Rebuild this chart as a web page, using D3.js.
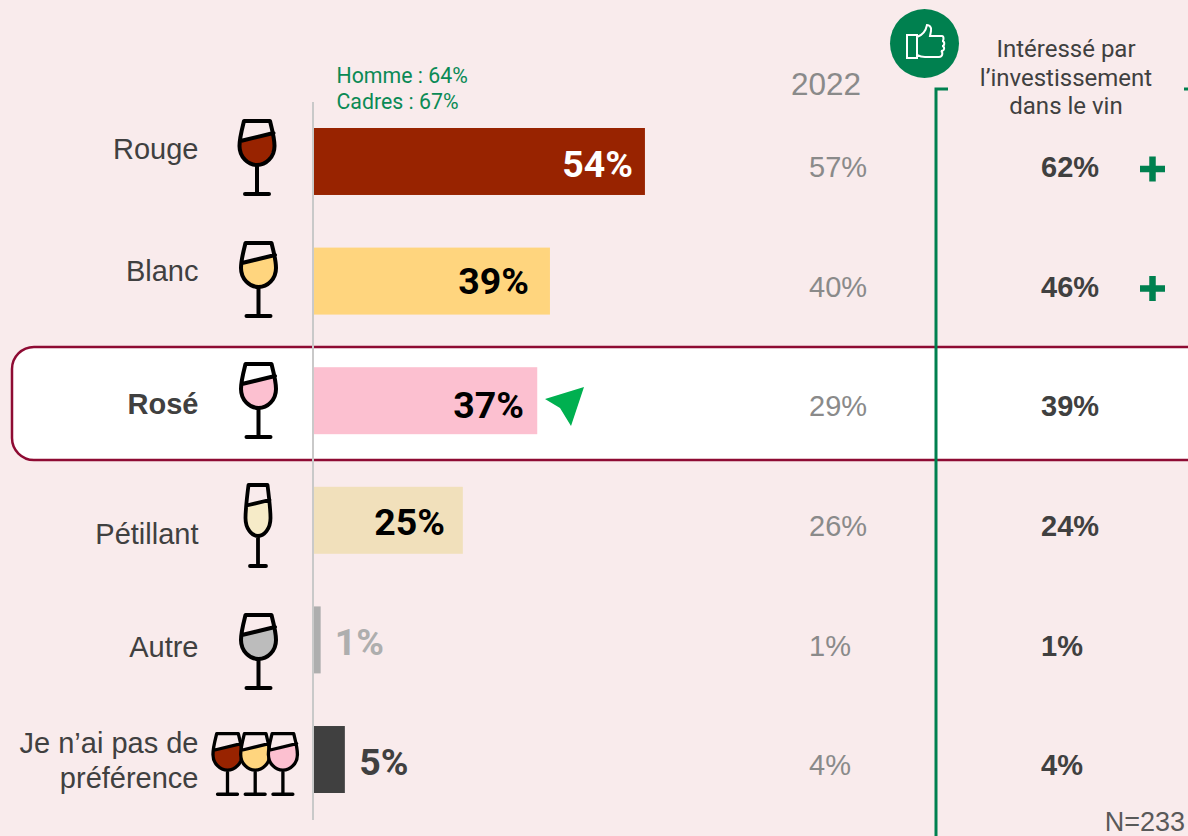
<!DOCTYPE html>
<html><head><meta charset="utf-8">
<script src="https://cdn.jsdelivr.net/npm/d3@7/dist/d3.min.js"></script>
<style>html,body{margin:0;padding:0;background:#f9ebec}svg{display:block}text{font-family:"Liberation Sans",Arial,sans-serif}.rb,text.val{font-family:Roboto,sans-serif}</style>
</head><body><svg id="c" width="1188" height="836"></svg>
<script>
const categories=["Rouge","Blanc","Rosé","Pétillant","Autre","Je n’ai pas de|préférence"];
const values=[54.7,39,36.9,24.6,1.1,5.1];
const valueLabels=["54%","39%","37%","25%","1%","5%"];
const year2022=["57%","40%","29%","26%","1%","4%"];
const invest=["62%","46%","39%","24%","1%","4%"];
const investPlus=[true,true,false,false,false,false];
const barColors=["#982300","#ffd57e","#fcc0d0","#f1e0bb","#aeaeae","#404040"];
const labelColors=["#fff","#000","#000","#000","#aeaeae","#404040"];
const glassFills=[["#982300"],["#ffd57e"],["#fcc0d0"],["#f6ebc8"],["#bcbcbc"],["#982300","#ffd57e","#fcc0d0"]];
const annotations=["Homme : 64%","Cadres : 67%"];
const headerLines=["Intéressé par","l’investissement","dans le vin"];

const svg=d3.select("#c");
const x=d3.scaleLinear().domain([0,100]).range([314,919]);
const y=d3.scaleBand().domain(categories).range([128,793]).paddingInner(0.44);
const labelBase=[159,281,414,544,657,753];
const pctBase=[177,294,418,535,655,775];
const colBase=[177,297,416,536,656,775];
const glassTop=[119,241,362,483,613,732];
const glassCx=[257,258.5,258.5,258,258.5,227.5];
const labelEnd=[633,529,524,445,384,408.5];

svg.append("rect").attr("width",1188).attr("height",836).attr("fill","#f9ebec");
svg.append("rect").attr("x",12).attr("y",347).attr("width",1240).attr("height",113).attr("rx",22)
  .attr("fill","#fff").attr("stroke","#8e0b33").attr("stroke-width",2.5);
svg.append("line").attr("x1",313).attr("x2",313).attr("y1",102).attr("y2",820).attr("stroke","#c9c9c9").attr("stroke-width",2);

svg.append("path").attr("d","M948,89H936V836").attr("fill","none").attr("stroke","#00804f").attr("stroke-width",3);
svg.append("path").attr("d","M1184,89H1188").attr("fill","none").attr("stroke","#00804f").attr("stroke-width",3);

svg.selectAll("rect.bar").data(categories).join("rect").attr("class","bar")
  .attr("x",x(0)).attr("y",d=>y(d)).attr("height",y.bandwidth())
  .attr("width",(d,i)=>x(values[i])-x(0)).attr("fill",(d,i)=>barColors[i]);

svg.selectAll("text.val").data(categories).join("text").attr("class","val")
  .attr("x",(d,i)=>labelEnd[i]).attr("y",(d,i)=>pctBase[i]).attr("text-anchor","end")
  .attr("font-size",37.5).attr("font-weight",700).attr("fill",(d,i)=>labelColors[i])
  .text((d,i)=>valueLabels[i]);

svg.selectAll("text.cat").data(categories).join("text").attr("class","cat")
  .attr("text-anchor","end").attr("font-size",29).attr("fill","#404040")
  .attr("font-weight",(d,i)=>i===2?700:400)
  .each(function(d,i){
    d3.select(this).selectAll("tspan").data(d.split("|")).join("tspan")
      .attr("x",198.5).attr("y",(t,j)=>labelBase[i]+j*35).text(t=>t);
  });

svg.selectAll("text.y22").data(year2022).join("text").attr("class","y22")
  .attr("x",809).attr("y",(d,i)=>colBase[i]).attr("font-size",29).attr("fill","#8a8a8a").text(d=>d);
svg.selectAll("text.inv").data(invest).join("text").attr("class","inv")
  .attr("x",1041).attr("y",(d,i)=>colBase[i]).attr("font-size",29).attr("font-weight",700).attr("fill","#404040").text(d=>d);
svg.selectAll("path.plus").data(investPlus.map((p,i)=>p?categories[i]:null).filter(Boolean)).join("path").attr("class","plus")
  .attr("d",d=>{const c=y(d)+y.bandwidth()/2+7.5;return `M1140,${c}H1165M1152.5,${c-12.5}V${c+12.5}`;})
  .attr("fill","none").attr("stroke","#00804f").attr("stroke-width",6.5);

function glass(g,fill,flute){
  if(flute){
    g.append("path").attr("d","M-11,22 L11,16.5 C12,24 12.5,30 12,35 C12,46 6,52 0,52 C-6,52 -12,46 -12,35 C-12.5,30 -11.5,26 -11,22Z").attr("fill",fill);
    g.append("path").attr("d","M-9.5,2H9.5C11,14 12.5,26 12.5,35C12.5,46 6,53 0,53C-6,53 -12.5,46 -12.5,35C-12.5,26 -11,14 -9.5,2ZM-11.5,22.5L11.5,17M0,53V83M-8,83H8")
      .attr("fill","none").attr("stroke","#000").attr("stroke-width",3.8).attr("stroke-linecap","round").attr("stroke-linejoin","round");
  } else {
    g.append("path").attr("d","M-16.5,22 L16,14 C17,22 17,28 15,33 C12,41 6,46 0,46 C-8,46 -17,39 -17,27Z").attr("fill",fill);
    g.append("path").attr("d","M-13,2H13C15,10 17.5,19 17.5,27C17.5,38 9,46 0,46C-9,46 -17.5,38 -17.5,27C-17.5,19 -15,10 -13,2ZM-16.5,22L16.5,14M0,46V75M-12,75H12")
      .attr("fill","none").attr("stroke","#000").attr("stroke-width",4).attr("stroke-linecap","round").attr("stroke-linejoin","round");
  }
}
glassFills.forEach((fills,i)=>{
  fills.forEach((f,j)=>{
    const s=fills.length>1?0.83:1;
    const g=svg.append("g").attr("transform",`translate(${glassCx[i]+j*27.7},${glassTop[i]}) scale(${s})`);
    glass(g,f,i===3);
  });
});

svg.append("path").attr("d","M545,399L584,387L571,426L560,408Z").attr("fill","#00b050");

svg.selectAll("text.ann").data(annotations).join("text").attr("class","ann rb")
  .attr("x",336.5).attr("y",(d,i)=>83+i*26).attr("font-size",21.3).attr("fill","#0a8a55").text(d=>d);

svg.append("text").attr("x",826).attr("y",95).attr("text-anchor","middle").attr("font-size",31.5).attr("fill","#8a8a8a").text("2022");
svg.selectAll("text.hdr").data(headerLines).join("text").attr("class","hdr rb")
  .attr("x",1066).attr("y",(d,i)=>57+i*28.7).attr("text-anchor","middle").attr("font-size",24).attr("fill","#404040").text(d=>d);
svg.append("text").attr("x",1185).attr("y",831).attr("text-anchor","end").attr("font-size",27).attr("fill","#595959").text("N=233");

svg.append("circle").attr("cx",924.5).attr("cy",43.5).attr("r",34.5).attr("fill","#00804f");
svg.append("path").attr("d","M907,35H917V58H907ZM917,37C923,35 926,30 927,25C929,25 932,27 931,31L930,36H942C944,36 944,41 942,41C945,41 945,46 942,46C945,46 945,51 941,51C943,52 943,57 939,57H925C921,57 919,56 917,55")
  .attr("fill","none").attr("stroke","#fff").attr("stroke-width",2);
</script></body></html>
